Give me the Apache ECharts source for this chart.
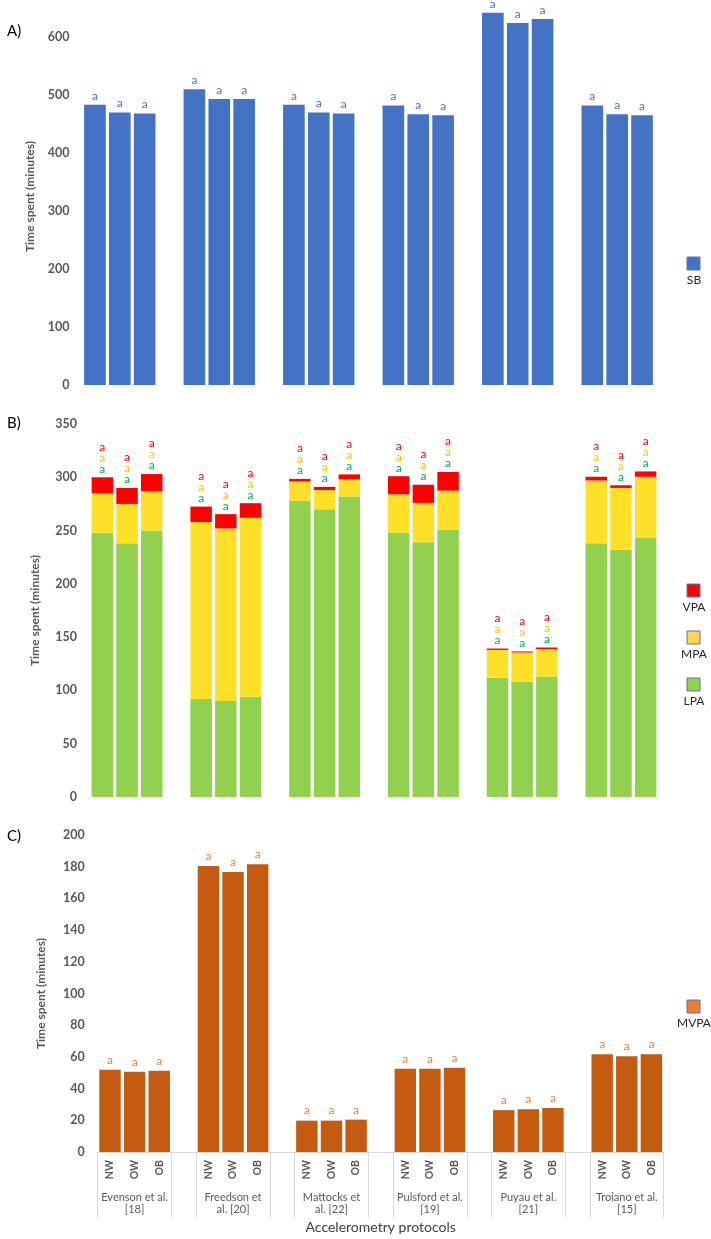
<!DOCTYPE html>
<html><head><meta charset="utf-8">
<script src="https://cdn.jsdelivr.net/npm/echarts@6/dist/echarts.min.js"></script>
<style>html,body{margin:0;padding:0;background:#fff}#c{width:711px;height:1239px}</style>
</head><body><div id="c"></div>
<script>
// ---------- data ----------
const groups = ['Evenson et al.\n[18]', 'Freedson et\nal. [20]', 'Mattocks et\nal. [22]', 'Pulsford et al.\n[19]', 'Puyau et al.\n[21]', 'Troiano et al.\n[15]'];
const subgroups = ['NW', 'OW', 'OB'];
const ticksA = [0, 100, 200, 300, 400, 500, 600];
const ticksB = [0, 50, 100, 150, 200, 250, 300, 350];
const ticksC = [0, 20, 40, 60, 80, 100, 120, 140, 160, 180, 200];

const sb   = [483, 470, 468,  510, 493, 493,  483, 470, 468,  482, 467, 465,  642, 624, 631,  482, 467, 465];
const lpa  = [248, 238, 250,   92,  90,  94,  278, 270, 282,  248, 239, 251,  112, 108, 113,  238, 232, 243];
const mpa  = [ 37,  37,  37,  166, 162, 168,   18,  18,  16,   36,  37, 36.5,  26, 27.6, 25.8, 59,  58, 57.5];
const vpa  = [ 15,  15,  16, 14.5, 13.4, 13.7, 2.5,  3, 4.7,   17,  17, 17.5, 1.3,  1, 1.5,  3.5, 2.5,  5];
const mvpa = [51.9, 50.6, 51.3, 180.4, 176.6, 181.5, 19.8, 19.8, 20.4, 52.6, 52.6, 53.2, 26.4, 27.0, 27.7, 61.7, 60.4, 61.7];

const sigSB   = ['a','a','a','a','a','a','a','a','a','a','a','a','a','a','a','a','a','a'];
const sigLPA  = ['a','a','a','a','a','a','a','a','a','a','a','a','a','a','a','a','a','a'];
const sigMPA  = ['a','a','a','a','a','a','a','a','a','a','a','a','a','a','a','a','a','a'];
const sigVPA  = ['a','a','a','a','a','a','a','a','a','a','a','a','a','a','a','a','a','a'];
const sigMVPA = ['a','a','a','a','a','a','a','a','a','a','a','a','a','a','a','a','a','a'];

// ---------- helpers ----------
const cats = [];
groups.forEach((g, gi) => {
  subgroups.forEach(s => cats.push(gi + '|' + s));
  if (gi < groups.length - 1) cats.push(gi + '|gap');
});
function withGaps(arr) {
  const out = [];
  arr.forEach((v, i) => { if (i > 0 && i % 3 === 0) out.push('-'); out.push(v); });
  return out;
}
function orig(di) { return Math.floor(di / 4) * 3 + (di % 4); }

const FONT = 'Lato, "Open Sans", sans-serif';
const GRAY = '#595959';

function yAx(grid, max, interval, gap) {
  return {
    type: 'value', gridIndex: grid, min: 0, max: max, interval: interval,
    name: 'Time spent (minutes)', nameLocation: 'middle', nameGap: gap,
    nameTextStyle: { fontFamily: FONT, fontWeight: 'bold', fontSize: 12, color: GRAY },
    axisLine: { show: false }, axisTick: { show: false }, splitLine: { show: false },
    axisLabel: { fontFamily: FONT, fontWeight: 'bold', fontSize: 12.5, color: GRAY, margin: 13, showMaxLabel: max % interval === 0 }
  };
}
function hiddenX(grid) {
  return { type: 'category', gridIndex: grid, data: cats, axisLine: { show: false }, axisTick: { show: false }, axisLabel: { show: false } };
}

const legendItems = [
  { name: 'SB', color: '#4472C4', y: 257 },
  { name: 'VPA', color: '#FF0000', y: 584 },
  { name: 'MPA', color: '#FFD44F', y: 631 },
  { name: 'LPA', color: '#92D050', y: 678 },
  { name: 'MVPA', color: '#ED7D31', y: 1000 }
];
const graphics = [];
legendItems.forEach(it => {
  graphics.push({ type: 'rect', shape: { x: 687, y: it.y, width: 13, height: 13 }, style: { fill: it.color, stroke: '#5877B0', lineWidth: 1 } });
  graphics.push({ type: 'text', x: 694, y: it.y + 23, style: { text: it.name, fontFamily: FONT, fontSize: 12, fill: '#262626', textAlign: 'center', textVerticalAlign: 'middle' } });
});

const chart = echarts.init(document.getElementById('c'), null, { renderer: 'canvas' });
chart.setOption({
  backgroundColor: '#fff',
  animation: false,
  textStyle: { fontFamily: FONT },
  title: [
    { text: 'A)', left: 2, top: 19, textStyle: { fontFamily: FONT, fontSize: 15, fontWeight: 'normal', color: '#000' } },
    { text: 'B)', left: 2, top: 411, textStyle: { fontFamily: FONT, fontSize: 15, fontWeight: 'normal', color: '#000' } },
    { text: 'C)', left: 2, top: 824, textStyle: { fontFamily: FONT, fontSize: 15, fontWeight: 'normal', color: '#000' } }
  ],
  grid: [
    { left: 82.5, top: 8, width: 572, height: 377, containLabel: false, outerBoundsMode: 'none' },
    { left: 90, top: 424, width: 568, height: 373, containLabel: false, outerBoundsMode: 'none' },
    { left: 97.7, top: 835, width: 566, height: 317, containLabel: false, outerBoundsMode: 'none' }
  ],
  xAxis: [
    hiddenX(0),
    hiddenX(1),
    {
      type: 'category', gridIndex: 2, data: cats,
      axisLine: { show: true, lineStyle: { color: '#D9D9D9', width: 1 } },
      axisTick: { show: true, length: 66, interval: (i) => (i % 4 === 0 || i % 4 === 3), lineStyle: { color: '#D9D9D9' } },
      axisLabel: {
        interval: 0, rotate: 90, margin: 8, fontFamily: FONT, fontWeight: 'bold', fontSize: 10.5, color: GRAY,
        formatter: (v) => { const s = v.split('|')[1]; return s === 'gap' ? '' : s; }
      }
    },
    {
      type: 'category', gridIndex: 2, data: cats, position: 'bottom', offset: 36,
      axisLine: { show: false }, axisTick: { show: false },
      axisLabel: {
        interval: 0, margin: 3, fontFamily: FONT, fontSize: 11, lineHeight: 12, color: GRAY,
        formatter: (v) => { const p = v.split('|'); return p[1] === 'OW' ? groups[+p[0]] : ''; }
      },
      name: 'Accelerometry protocols', nameLocation: 'middle', nameGap: 32,
      nameTextStyle: { fontFamily: FONT, fontSize: 14, color: '#404040' }
    }
  ],
  yAxis: [
    yAx(0, 650, 100, 46),
    yAx(1, 350, 50, 49),
    yAx(2, 200, 20, 51)
  ],
  series: [
    {
      name: 'SB', type: 'bar', xAxisIndex: 0, yAxisIndex: 0, data: withGaps(sb), barCategoryGap: '13%',
      itemStyle: { color: '#4472C4' },
      label: { show: true, position: 'top', distance: 3, fontFamily: FONT, fontSize: 12, color: '#4472C4', formatter: p => sigSB[orig(p.dataIndex)] }
    },
    {
      name: 'LPA', type: 'bar', stack: 'pa', xAxisIndex: 1, yAxisIndex: 1, data: withGaps(lpa), barCategoryGap: '13%',
      itemStyle: { color: '#92D050' }
    },
    {
      name: 'MPA', type: 'bar', stack: 'pa', xAxisIndex: 1, yAxisIndex: 1, data: withGaps(mpa), barCategoryGap: '13%',
      itemStyle: { color: '#FFE028' }
    },
    {
      name: 'VPA', type: 'bar', stack: 'pa', xAxisIndex: 1, yAxisIndex: 1, data: withGaps(vpa), barCategoryGap: '13%',
      itemStyle: { color: '#FF0000' },
      label: {
        show: true, position: 'top', distance: 3, fontFamily: FONT, fontSize: 12, lineHeight: 11,
        formatter: p => { const k = orig(p.dataIndex); return '{r|' + sigVPA[k] + '}\n{y|' + sigMPA[k] + '}\n{g|' + sigLPA[k] + '}'; },
        rich: {
          r: { color: '#FF0000', fontFamily: FONT, fontSize: 12, lineHeight: 11 },
          y: { color: '#FFC000', fontFamily: FONT, fontSize: 12, lineHeight: 11 },
          g: { color: '#00B050', fontFamily: FONT, fontSize: 12, lineHeight: 11 }
        }
      }
    },
    {
      name: 'MVPA', type: 'bar', xAxisIndex: 2, yAxisIndex: 2, data: withGaps(mvpa), barCategoryGap: '13%',
      itemStyle: { color: '#C55A11' },
      label: { show: true, position: 'top', distance: 4, fontFamily: FONT, fontSize: 12, color: '#ED7D31', formatter: p => sigMVPA[orig(p.dataIndex)] }
    }
  ],
  graphic: graphics
});
</script>
</body></html>
